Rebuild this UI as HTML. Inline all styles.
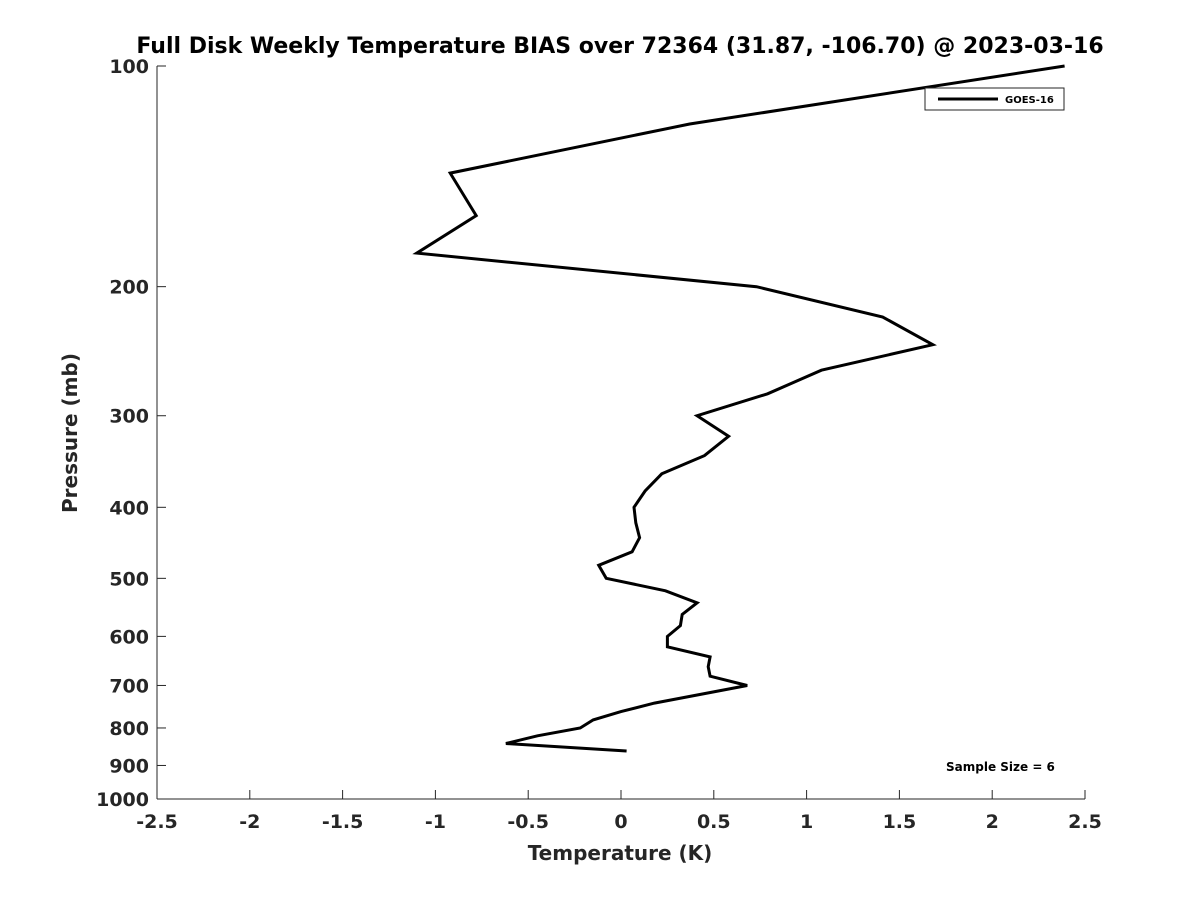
<!DOCTYPE html>
<html><head><meta charset="utf-8"><style>
body{margin:0;background:#fff;}
svg{font-family:"DejaVu Sans","Liberation Sans",sans-serif;font-weight:bold;}
</style></head><body>
<svg id="chart" width="1200" height="900">
<rect width="1200" height="900" fill="#fff"/>
<text x="620" y="53" text-anchor="middle" font-size="22" fill="#000">Full Disk Weekly Temperature BIAS over 72364 (31.87, -106.70) @ 2023-03-16</text>
<g id="axes"></g>
<text x="620" y="860" text-anchor="middle" font-size="20" fill="#262626">Temperature (K)</text>
<text transform="translate(77,433) rotate(-90)" text-anchor="middle" font-size="20" fill="#262626">Pressure (mb)</text>
<g>
<rect x="925" y="88" width="139" height="22" fill="#fff" stroke="#262626" stroke-width="1"/>
<line x1="938" y1="99" x2="998" y2="99" stroke="#000" stroke-width="3"/>
<text x="1005" y="103" font-size="10" fill="#000">GOES-16</text>
</g>
<text x="946" y="771" font-size="12" fill="#000">Sample Size = 6</text>
</svg>
<script>
const pressures=[100,120,140,160,180,200,220,240,260,280,300,320,340,360,380,400,420,440,460,480,500,520,540,560,580,600,620,640,660,680,700,740,760,780,800,820,840,860];
const biasValues=[2.39,0.37,-0.92,-0.78,-1.10,0.73,1.41,1.68,1.08,0.79,0.41,0.58,0.45,0.22,0.13,0.07,0.08,0.10,0.06,-0.12,-0.08,0.24,0.41,0.33,0.32,0.25,0.25,0.48,0.47,0.48,0.68,0.18,0.0,-0.15,-0.22,-0.45,-0.62,0.03];
const xTicks=[-2.5,-2,-1.5,-1,-0.5,0,0.5,1,1.5,2,2.5];
const yTicks=[100,200,300,400,500,600,700,800,900,1000];
const X0=157,X1=1085,Y0=66,Y1=799;
const xs=v=>X0+(v+2.5)/5*(X1-X0);
const ys=p=>Y0+(Math.log10(p)-2)*(Y1-Y0);
const NS="http://www.w3.org/2000/svg";
const g=document.getElementById('axes');
function mk(t,a){const e=document.createElementNS(NS,t);for(const k in a)e.setAttribute(k,a[k]);return e;}
const xl=mk('line',{x1:X0,y1:Y1,x2:X1,y2:Y1,stroke:'#262626','stroke-width':1});


g.appendChild(xl);
const yl=mk('line',{x1:X0,y1:Y0,x2:X0,y2:Y1,stroke:'#262626','stroke-width':1});


g.appendChild(yl);
xTicks.forEach(v=>{const x=xs(v);
g.appendChild(mk('line',{x1:x,y1:Y1,x2:x,y2:Y1-9,stroke:'#262626'}));
const t=mk('text',{x:x,y:Y1+29,'text-anchor':'middle','font-size':19,fill:'#262626'});t.textContent=String(v);


g.appendChild(t);});
yTicks.forEach(p=>{const y=ys(p);
g.appendChild(mk('line',{x1:X0,y1:y,x2:X0+9,y2:y,stroke:'#262626'}));
const t=mk('text',{x:X0-8,y:y+7,'text-anchor':'end','font-size':19,fill:'#262626'});t.textContent=String(p);


g.appendChild(t);});
const pts=pressures.map((p,i)=>xs(biasValues[i]).toFixed(1)+','+ys(p).toFixed(1)).join(' ');
const line=mk('polyline',{points:pts,fill:'none',stroke:'#000','stroke-width':3,'stroke-linejoin':'miter'});


g.appendChild(line);
</script>
</body></html>
